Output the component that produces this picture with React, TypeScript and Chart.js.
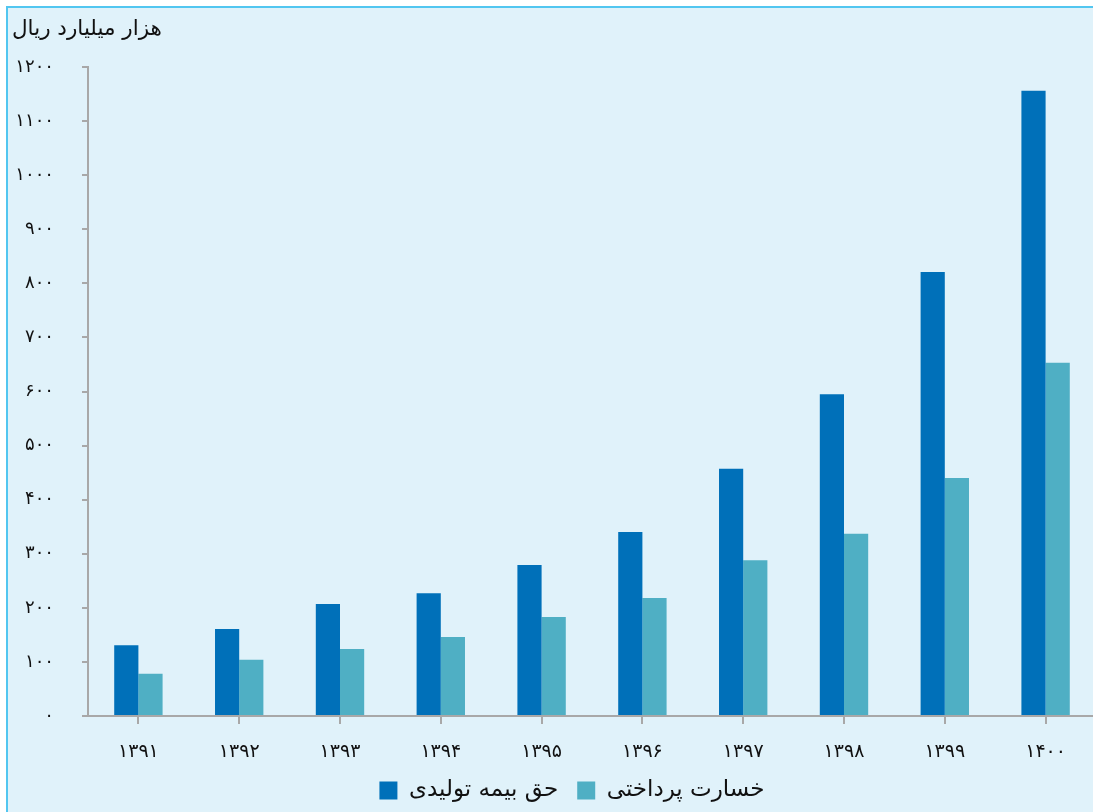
import React, { useEffect, useRef } from "react";
import { Chart, registerables } from "chart.js";

Chart.register(...registerables);

const categories = ["۱۳۹۱", "۱۳۹۲", "۱۳۹۳", "۱۳۹۴", "۱۳۹۵", "۱۳۹۶", "۱۳۹۷", "۱۳۹۸", "۱۳۹۹", "۱۴۰۰"];
const premiumValues = [131, 161, 207, 227, 279, 340, 457, 595, 821, 1156];
const claimsValues = [78, 104, 124, 146, 183, 218, 288, 337, 440, 653];
const seriesNames = ["حق بیمه تولیدی", "خسارت پرداختی"];
const unitTitle = "هزار میلیارد ریال";
const yMin = 0;
const yMax = 1200;
const yStep = 100;

const persianDigits = ["۰", "۱", "۲", "۳", "۴", "۵", "۶", "۷", "۸", "۹"];
const toPersian = (n: number) => String(n).replace(/\d/g, (d) => persianDigits[Number(d)]);

const FONT = "'DejaVu Sans', sans-serif";

const legendShift = {
  id: "legendShift",
  afterLayout(chart: any) {
    const l = chart.legend;
    if (l) {
      l.left += 18;
      l.right += 18;
    }
  },
};

export default function App() {
  const ref = useRef<HTMLCanvasElement | null>(null);

  useEffect(() => {
    if (!ref.current) return;
    const chart = new Chart(ref.current, {
      type: "bar",
      data: {
        labels: categories,
        datasets: [
          {
            label: seriesNames[0],
            data: premiumValues,
            backgroundColor: "#0070b9",
            borderWidth: 0,
            categoryPercentage: 0.48,
            barPercentage: 1,
          },
          {
            label: seriesNames[1],
            data: claimsValues,
            backgroundColor: "#4fafc4",
            borderWidth: 0,
            categoryPercentage: 0.48,
            barPercentage: 1,
          },
        ],
      },
      plugins: [legendShift],
      options: {
        animation: false,
        responsive: false,
        maintainAspectRatio: false,
        layout: { padding: { left: 4, right: 0, top: 59, bottom: 0 } },
        plugins: {
          title: { display: false },
          legend: {
            position: "bottom",
            labels: {
              boxWidth: 18,
              boxHeight: 18,
              padding: 19,
              color: "#111",
              font: { family: FONT, size: 23 },
            },
          },
          tooltip: { enabled: false },
        },
        scales: {
          x: {
            offset: true,
            afterFit: (scale: any) => {
              scale.height = 44;
            },
            grid: {
              offset: false,
              drawOnChartArea: false,
              drawTicks: true,
              tickLength: 8,
              color: "#a8a8a8",
              lineWidth: 2,
            },
            border: { display: true, color: "#a8a8a8", width: 2 },
            ticks: {
              color: "#111",
              padding: 17,
              font: { family: FONT, size: 19 },
              maxRotation: 0,
            },
          },
          y: {
            min: yMin,
            max: yMax,
            afterFit: (scale: any) => {
              scale.width = 76;
            },
            grid: {
              drawOnChartArea: false,
              drawTicks: true,
              tickLength: 6,
              color: "#a8a8a8",
              lineWidth: 2,
            },
            border: { display: true, color: "#a8a8a8", width: 2 },
            ticks: {
              stepSize: yStep,
              color: "#111",
              padding: 28,
              font: { family: FONT, size: 18 },
              callback: (v: any) => toPersian(Number(v)),
            },
          },
        },
      },
    });
    return () => chart.destroy();
  }, []);

  return (
    <div
      style={{
        position: "fixed",
        left: 0,
        top: 0,
        width: 1093,
        height: 812,
        overflow: "hidden",
        background: "#ffffff",
      }}
    >
      <div style={{ position: "absolute", left: 6, top: 6, width: 1087, height: 806, background: "#e0f2fa" }} />
      <div style={{ position: "absolute", left: 6, top: 6, width: 1087, height: 2, background: "#52c6f0" }} />
      <div style={{ position: "absolute", left: 6, top: 6, width: 2, height: 806, background: "#52c6f0" }} />
      <canvas
        ref={ref}
        width={1088}
        height={804}
        style={{ position: "absolute", left: 8, top: 8, display: "block", width: 1088, height: 804 }}
      />
      <div
        style={{
          position: "absolute",
          left: 12,
          top: 15,
          fontFamily: FONT,
          fontSize: 21.5,
          lineHeight: "26px",
          color: "#111",
          whiteSpace: "nowrap",
        }}
      >
        {unitTitle}
      </div>
    </div>
  );
}
